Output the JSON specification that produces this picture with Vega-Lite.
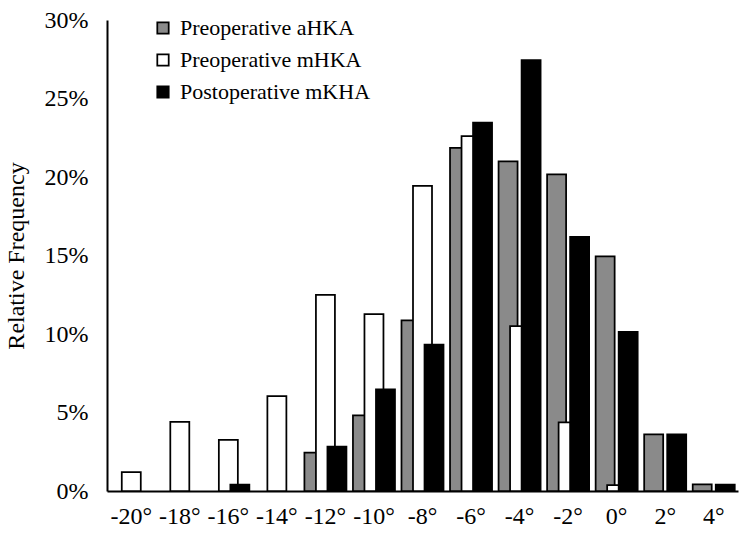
{
  "$schema": "https://vega.github.io/schema/vega-lite/v6.json",
  "width": 631,
  "height": 471,
  "autosize": {"type": "none"},
  "padding": {"left": 107, "top": 20, "right": 12, "bottom": 48},
  "background": "white",
  "data": {
    "values": [
      {"angle": "-12°", "series": "Preoperative aHKA", "freq": 0.0244},
      {"angle": "-10°", "series": "Preoperative aHKA", "freq": 0.0482},
      {"angle": "-8°", "series": "Preoperative aHKA", "freq": 0.1087},
      {"angle": "-6°", "series": "Preoperative aHKA", "freq": 0.2185},
      {"angle": "-4°", "series": "Preoperative aHKA", "freq": 0.2100},
      {"angle": "-2°", "series": "Preoperative aHKA", "freq": 0.2017},
      {"angle": "0°", "series": "Preoperative aHKA", "freq": 0.1495},
      {"angle": "2°", "series": "Preoperative aHKA", "freq": 0.0360},
      {"angle": "4°", "series": "Preoperative aHKA", "freq": 0.0042},
      {"angle": "-20°", "series": "Preoperative mHKA", "freq": 0.0120},
      {"angle": "-18°", "series": "Preoperative mHKA", "freq": 0.0440},
      {"angle": "-16°", "series": "Preoperative mHKA", "freq": 0.0325},
      {"angle": "-14°", "series": "Preoperative mHKA", "freq": 0.0605},
      {"angle": "-12°", "series": "Preoperative mHKA", "freq": 0.1250},
      {"angle": "-10°", "series": "Preoperative mHKA", "freq": 0.1127},
      {"angle": "-8°", "series": "Preoperative mHKA", "freq": 0.1943},
      {"angle": "-6°", "series": "Preoperative mHKA", "freq": 0.2260},
      {"angle": "-4°", "series": "Preoperative mHKA", "freq": 0.1050},
      {"angle": "-2°", "series": "Preoperative mHKA", "freq": 0.0437},
      {"angle": "0°", "series": "Preoperative mHKA", "freq": 0.0038},
      {"angle": "-16°", "series": "Postoperative mKHA", "freq": 0.0040},
      {"angle": "-12°", "series": "Postoperative mKHA", "freq": 0.0282},
      {"angle": "-10°", "series": "Postoperative mKHA", "freq": 0.0648},
      {"angle": "-8°", "series": "Postoperative mKHA", "freq": 0.0932},
      {"angle": "-6°", "series": "Postoperative mKHA", "freq": 0.2346},
      {"angle": "-4°", "series": "Postoperative mKHA", "freq": 0.2745},
      {"angle": "-2°", "series": "Postoperative mKHA", "freq": 0.1618},
      {"angle": "0°", "series": "Postoperative mKHA", "freq": 0.1013},
      {"angle": "2°", "series": "Postoperative mKHA", "freq": 0.0360},
      {"angle": "4°", "series": "Postoperative mKHA", "freq": 0.0040}
    ]
  },
  "mark": {"type": "bar", "width": 19, "stroke": "#000000", "strokeWidth": 1.75, "strokeJoin": "miter"},
  "encoding": {
    "x": {
      "field": "angle",
      "type": "nominal",
      "sort": ["-20°", "-18°", "-16°", "-14°", "-12°", "-10°", "-8°", "-6°", "-4°", "-2°", "0°", "2°", "4°"],
      "scale": {"paddingInner": 0, "paddingOuter": 0},
      "axis": {
        "title": null,
        "labelAngle": 0,
        "labelFont": "Liberation Serif",
        "labelFontSize": 24,
        "labelColor": "#000000",
        "labelPadding": 13,
        "ticks": false,
        "domainColor": "#000000",
        "domainWidth": 2,
        "grid": false
      }
    },
    "xOffset": {
      "field": "series",
      "type": "nominal",
      "sort": ["Preoperative aHKA", "Preoperative mHKA", "Postoperative mKHA"],
      "scale": {"paddingInner": 0, "paddingOuter": 0.608}
    },
    "y": {
      "field": "freq",
      "type": "quantitative",
      "scale": {"domain": [0, 0.3], "nice": false},
      "axis": {
        "title": "Relative Frequency",
        "titleFont": "Liberation Serif",
        "titleFontSize": 24,
        "titleFontWeight": "normal",
        "titleColor": "#000000",
        "titlePadding": 16,
        "values": [0, 0.05, 0.1, 0.15, 0.2, 0.25, 0.3],
        "format": ".0%",
        "labelFont": "Liberation Serif",
        "labelFontSize": 24,
        "labelColor": "#000000",
        "labelPadding": 19,
        "ticks": false,
        "grid": false,
        "domainColor": "#000000",
        "domainWidth": 2
      }
    },
    "color": {
      "field": "series",
      "type": "nominal",
      "sort": ["Preoperative aHKA", "Preoperative mHKA", "Postoperative mKHA"],
      "scale": {
        "domain": ["Preoperative aHKA", "Preoperative mHKA", "Postoperative mKHA"],
        "range": ["#8a8a8a", "#ffffff", "#000000"]
      },
      "legend": {
        "title": null,
        "orient": "none",
        "legendX": 45,
        "legendY": -3,
        "symbolType": "square",
        "symbolSize": 130,
        "symbolStrokeColor": "#000000",
        "symbolStrokeWidth": 1.75,
        "symbolOpacity": 1,
        "labelFont": "Liberation Serif",
        "labelFontSize": 22,
        "labelColor": "#000000",
        "labelOffset": 6,
        "rowPadding": 10,
        "labelLimit": 400
      }
    }
  },
  "config": {"view": {"stroke": null}}
}
